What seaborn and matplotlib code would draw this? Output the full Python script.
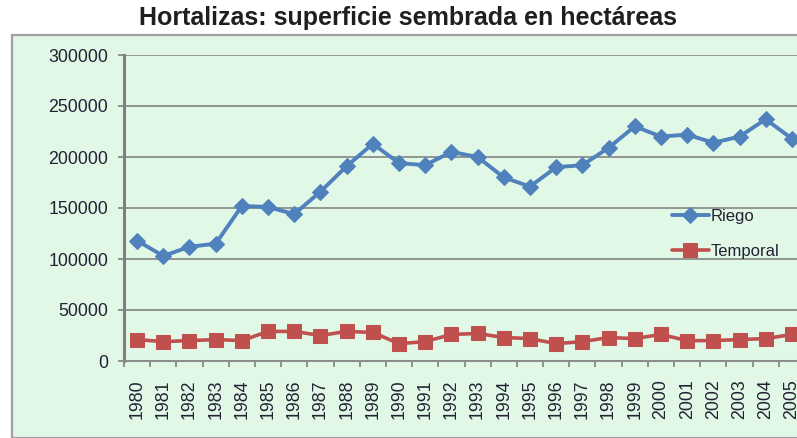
import matplotlib
matplotlib.use("Agg")
import matplotlib.pyplot as plt
import seaborn as sns
import pandas as pd
import numpy as np
from matplotlib.patches import Rectangle

years = [str(y) for y in range(1980, 2006)]
riego = [118000, 103000, 112000, 115000, 152000, 151000, 144000, 166000, 191000, 213000,
         194000, 192000, 205000, 200000, 180000, 171000, 190000, 192000, 209000, 230000,
         220000, 222000, 214000, 220000, 237000, 218000]
temporal = [21000, 19000, 20000, 21000, 20000, 29000, 29000, 25000, 29000, 28000,
            17000, 19000, 26000, 27000, 23000, 22000, 17000, 19000, 23000, 22000,
            26000, 20000, 20000, 21000, 22000, 26000]
yticks = [0, 50000, 100000, 150000, 200000, 250000, 300000]
title = "Hortalizas: superficie sembrada en hectáreas"

sns.set_theme(style="white")
plt.rcParams['font.family'] = ['Liberation Sans', 'DejaVu Sans']

W, H = 797, 438
fig = plt.figure(figsize=(W / 100, H / 100), dpi=100)
fig.patch.set_facecolor("white")

green = "#E1F8E7"
# chart area box
fig.patches.append(Rectangle((12 / W, 0.5 / H), (W + 20) / W, (H - 34 - 1) / H,
                             transform=fig.transFigure, facecolor=green,
                             edgecolor="#A0A0A0", linewidth=1.6, zorder=-10))

ax = fig.add_axes([124 / W, 1 - 361 / H, (805 - 124) / W, (361 - 55) / H])
ax.set_zorder(2)
ax.set_facecolor(green)

df = pd.DataFrame({"x": np.arange(len(years)), "Riego": riego, "Temporal": temporal})

sns.lineplot(data=df, x="x", y="Riego", ax=ax, color="#4F81BD", marker="D",
             markersize=8.5, markeredgecolor="#4F81BD", linewidth=2.8, label="Riego", zorder=4)
sns.lineplot(data=df, x="x", y="Temporal", ax=ax, color="#C0504D", marker="s",
             markersize=10, markeredgecolor="#C0504D", linewidth=2.6, label="Temporal", zorder=3)

ax.set_xlim(-0.5, len(years) - 0.5)
ax.set_ylim(0, 300000)
ax.set_yticks(yticks)
ax.set_yticklabels([str(v) for v in yticks])
ax.set_xticks(np.arange(len(years)))
ax.set_xticklabels(years, rotation=90)
ax.set_xticks(np.arange(-0.5, len(years) + 0.5, 1), minor=True)
ax.set_xlabel("")
ax.set_ylabel("")

ax.grid(axis="y", color="#858585", linewidth=1.2)
ax.grid(axis="x", visible=False)
ax.set_axisbelow(True)

for s in ["top", "right"]:
    ax.spines[s].set_visible(False)
ax.spines["left"].set_color("#7F7F7F")
ax.spines["left"].set_linewidth(2.2)
ax.spines["bottom"].set_color("#8C8C8C")
ax.spines["bottom"].set_linewidth(1.5)

ax.tick_params(axis="y", which="major", length=4.5, width=1.2, color="#7F7F7F",
               labelsize=12.8, labelcolor="#222233", pad=7, left=True)
ax.tick_params(axis="x", which="major", length=0, labelsize=12.8, labelcolor="#222233", pad=13)
ax.tick_params(axis="x", which="minor", length=4.5, width=1.2, color="#7F7F7F", bottom=True)

leg = ax.legend(loc="center left", bbox_to_anchor=(672 / W, 1 - 234 / H),
                bbox_transform=fig.transFigure, frameon=False, fontsize=12,
                handlelength=2.2, handletextpad=0.1, labelspacing=1.2,
                borderpad=0, borderaxespad=0)
for t in leg.get_texts():
    t.set_color("#222233")

fig.text(408 / W, 1 - 18 / H, title, ha="center", va="center",
         fontsize=18, fontweight="bold", color="#1F1F1F")

fig.savefig("out.png", dpi=100)
